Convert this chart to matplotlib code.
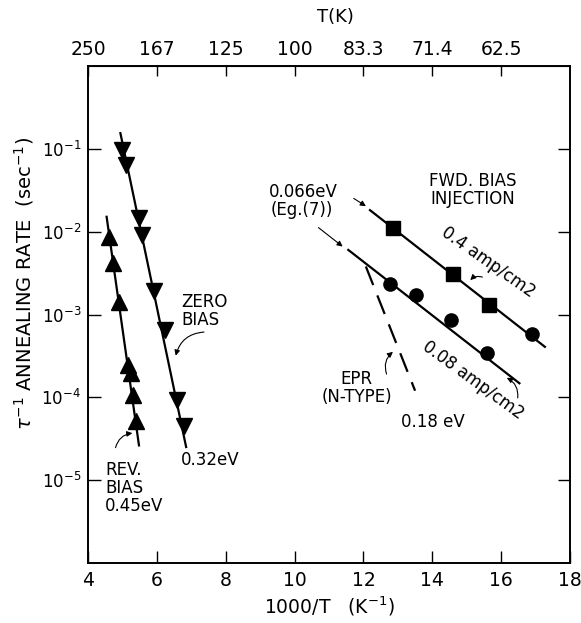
import numpy as np
import matplotlib
matplotlib.use("Agg")
import matplotlib.pyplot as plt
from matplotlib.ticker import NullLocator

plt.rcParams['font.family'] = ['DejaVu Sans']
plt.rcParams['mathtext.fontset'] = 'dejavusans'

# zero bias (down triangles)
zero_x = [4.98, 5.10, 5.48, 5.58, 5.93, 6.25, 6.58, 6.80]
zero_y = [10**-1.01, 10**-1.20, 10**-1.84, 10**-2.04, 10**-2.71, 10**-3.19, 10**-4.03, 10**-4.34]
zero_fit_x = [4.94, 6.85]
zero_fit_y = [10**-0.81, 10**-4.60]

# reverse bias (up triangles)
rev_x = [4.62, 4.72, 4.91, 5.15, 5.25, 5.30, 5.39]
rev_y = [10**-2.06, 10**-2.38, 10**-2.85, 10**-3.61, 10**-3.71, 10**-3.97, 10**-4.28]
rev_fit_x = [4.54, 5.48]
rev_fit_y = [10**-1.82, 10**-4.58]

# forward bias 0.4 amp/cm2
fwd4_sq_x = [12.87, 14.61, 15.66]
fwd4_sq_y = [10**-1.95, 10**-2.51, 10**-2.89]
fwd4_ci_x = [16.89]
fwd4_ci_y = [10**-3.24]
fwd4_fit_x = [12.19, 17.27]
fwd4_fit_y = [10**-1.74, 10**-3.39]

# forward bias 0.08 amp/cm2
fwd08_x = [12.77, 13.53, 14.54, 15.60]
fwd08_y = [10**-2.63, 10**-2.77, 10**-3.07, 10**-3.46]
fwd08_fit_x = [11.56, 16.53]
fwd08_fit_y = [10**-2.22, 10**-3.83]

# EPR (N-type)
epr_x = [12.07, 13.50]
epr_y = [10**-2.42, 10**-3.92]

x_ticks = [4, 6, 8, 10, 12, 14, 16, 18]
top_ticks = [4, 6, 8, 10, 12, 14, 16]
top_labels = ['250', '167', '125', '100', '83.3', '71.4', '62.5']
y_ticks = [1e-1, 1e-2, 1e-3, 1e-4, 1e-5]
y_labels = ['$10^{-1}$', '$10^{-2}$', '$10^{-3}$', '$10^{-4}$', '$10^{-5}$']

fig = plt.figure(figsize=(5.81, 6.23), dpi=100)
ax = fig.add_axes([0.1515, 0.0963, 0.8296, 0.7977])

lw = 1.6
ax.plot(zero_fit_x, zero_fit_y, color='black', lw=lw)
ax.plot(zero_x, zero_y, 'v', color='black', markersize=11)
ax.plot(rev_fit_x, rev_fit_y, color='black', lw=lw)
ax.plot(rev_x, rev_y, '^', color='black', markersize=11)
ax.plot(fwd4_fit_x, fwd4_fit_y, color='black', lw=lw)
ax.plot(fwd4_sq_x, fwd4_sq_y, 's', color='black', markersize=9.5)
ax.plot(fwd4_ci_x, fwd4_ci_y, 'o', color='black', markersize=9.5)
ax.plot(fwd08_fit_x, fwd08_fit_y, color='black', lw=lw)
ax.plot(fwd08_x, fwd08_y, 'o', color='black', markersize=9.5)
ax.plot(epr_x, epr_y, color='black', lw=lw, dashes=(9, 5))

ax.set_xlim(4, 18)
ax.set_yscale('log')
ax.set_ylim(1e-6, 1)
ax.set_xticks(x_ticks)
ax.set_xticklabels([str(t) for t in x_ticks])
ax.set_yticks(y_ticks)
ax.set_yticklabels(y_labels)
ax.yaxis.set_minor_locator(NullLocator())
ax.tick_params(axis='x', direction='in', length=9, width=1, labelsize=13.5, pad=6)
ax.tick_params(axis='y', direction='in', length=9, width=1, labelsize=12, pad=5,
               right=True)
for s in ax.spines.values():
    s.set_linewidth(1.4)

top = ax.secondary_xaxis('top')
top.set_xticks(top_ticks)
top.set_xticklabels(top_labels)
top.tick_params(direction='in', length=7, width=1, labelsize=13.5, pad=5)

ax.set_xlabel(r'1000/T   (K$^{-1}$)', fontsize=13.5, labelpad=3)
fig.text(0.577, 0.973, 'T(K)', fontsize=13, ha='center', va='center')
fig.text(0.042, 0.545, r'$\tau^{-1}$ ANNEALING RATE  (sec$^{-1}$)', fontsize=14,
         rotation=90, ha='center', va='center')

fs = 12
ax.text(6.72, 10**-2.96, 'ZERO\nBIAS', fontsize=fs, ha='left', va='center', linespacing=1.0)
ax.annotate('', xy=(6.53, 10**-3.53), xytext=(7.45, 10**-3.21),
            arrowprops=dict(arrowstyle='-|>', color='black', lw=0.8,
                            connectionstyle='arc3,rad=0.4', mutation_scale=8))
ax.text(4.5, 10**-5.09, 'REV.\nBIAS\n0.45eV', fontsize=fs, ha='left', va='center', linespacing=1.0)
ax.annotate('', xy=(5.37, 10**-4.43), xytext=(4.78, 10**-4.64),
            arrowprops=dict(arrowstyle='-|>', color='black', lw=0.8,
                            connectionstyle='arc3,rad=-0.4', mutation_scale=8))
ax.text(6.7, 10**-4.76, '0.32eV', fontsize=fs, ha='left', va='center')

ax.text(9.25, 10**-1.52, '0.066eV', fontsize=fs, ha='left', va='center')
ax.text(9.3, 10**-1.74, '(Eg.(7))', fontsize=fs, ha='left', va='center')
ax.annotate('', xy=(12.14, 10**-1.71), xytext=(11.65, 10**-1.58),
            arrowprops=dict(arrowstyle='-|>', color='black', lw=0.8, mutation_scale=8))
ax.annotate('', xy=(11.46, 10**-2.20), xytext=(10.63, 10**-1.93),
            arrowprops=dict(arrowstyle='-|>', color='black', lw=0.8, mutation_scale=8))
ax.text(15.18, 10**-1.50, 'FWD. BIAS\nINJECTION', fontsize=fs, ha='center', va='center',
        linespacing=1.0)
ax.text(15.62, 10**-2.37, '0.4 amp/cm2', fontsize=fs, ha='center', va='center',
        rotation=-35, rotation_mode='anchor')
ax.text(15.18, 10**-3.79, '0.08 amp/cm2', fontsize=fs, ha='center', va='center',
        rotation=-36, rotation_mode='anchor')
ax.annotate('', xy=(15.05, 10**-2.61), xytext=(15.53, 10**-2.56),
            arrowprops=dict(arrowstyle='-|>', color='black', lw=0.8,
                            connectionstyle='arc3,rad=0.4', mutation_scale=8))
ax.annotate('', xy=(16.09, 10**-3.75), xytext=(16.47, 10**-4.04),
            arrowprops=dict(arrowstyle='-|>', color='black', lw=0.8,
                            connectionstyle='arc3,rad=0.4', mutation_scale=8))
ax.text(11.81, 10**-3.89, 'EPR\n(N-TYPE)', fontsize=fs, ha='center', va='center',
        linespacing=1.0)
ax.annotate('', xy=(12.92, 10**-3.43), xytext=(12.7, 10**-3.75),
            arrowprops=dict(arrowstyle='-|>', color='black', lw=0.8,
                            connectionstyle='arc3,rad=-0.4', mutation_scale=8))
ax.text(14.02, 10**-4.30, '0.18 eV', fontsize=fs, ha='center', va='center')

fig.savefig('out.png', dpi=100)
